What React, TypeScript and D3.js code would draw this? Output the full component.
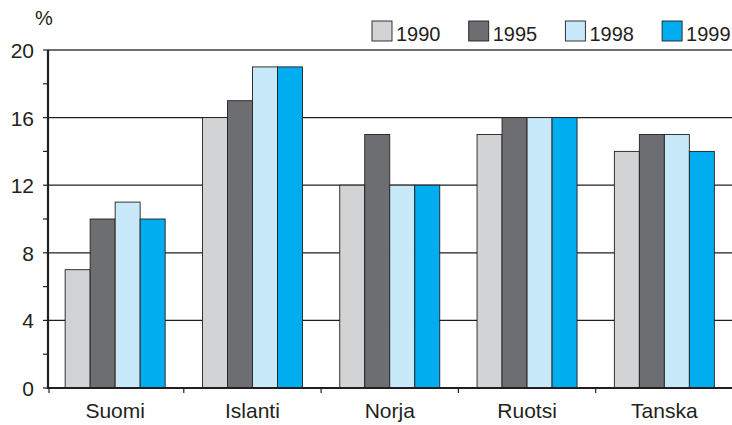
import React, { useRef, useEffect } from 'react';
import * as d3 from 'd3';

const countries = ['Suomi', 'Islanti', 'Norja', 'Ruotsi', 'Tanska'];
const years = ['1990', '1995', '1998', '1999'];
const values1990 = [7, 16, 12, 15, 14];
const values1995 = [10, 17, 15, 16, 15];
const values1998 = [11, 19, 12, 16, 15];
const values1999 = [10, 19, 12, 16, 14];
const yTicks = [0, 4, 8, 12, 16, 20];
const yMinorTicks = [2, 6, 10, 14, 18];
const colors = ['#d1d3d4', '#6d6e71', '#c7e9f9', '#00aeef'];

const series = [values1990, values1995, values1998, values1999];

const App: React.FC = () => {
  const svgRef = useRef<SVGSVGElement>(null);
  const width = 732;
  const height = 425;

  useEffect(() => {
    if (!svgRef.current) return;
    const svg = d3.select(svgRef.current);
    svg.selectAll('*').remove();

    const left = 48;
    const top = 50;
    const bottom = 388;
    const font = 'Liberation Sans, Arial, sans-serif';

    const x = d3.scaleBand<string>().domain(countries).range([46.5, 733]);
    const groupWidth = 100;
    const x1 = d3.scaleBand<string>().domain(years).range([0, groupWidth]);
    const y = d3.scaleLinear().domain([0, 20]).range([bottom, top]);

    // grid lines
    svg
      .append('g')
      .selectAll('line')
      .data(yTicks.filter((t) => t > 0))
      .enter()
      .append('line')
      .attr('x1', left)
      .attr('x2', width)
      .attr('y1', (d) => y(d))
      .attr('y2', (d) => y(d))
      .attr('stroke', (d) => (d === 20 ? '#6d6e71' : '#231f20'))
      .attr('stroke-width', (d) => (d === 20 ? 2 : 1.2));

    // bars
    const groups = svg
      .append('g')
      .selectAll('g')
      .data(countries)
      .enter()
      .append('g')
      .attr(
        'transform',
        (d) => `translate(${x(d)! + (x.bandwidth() - groupWidth) / 2},0)`
      );

    groups
      .selectAll('rect')
      .data((d, i) => series.map((s, j) => ({ year: years[j], v: s[i], j })))
      .enter()
      .append('rect')
      .attr('x', (d) => x1(d.year)!)
      .attr('width', x1.bandwidth())
      .attr('y', (d) => y(d.v))
      .attr('height', (d) => bottom - y(d.v))
      .attr('fill', (d) => colors[d.j])
      .attr('stroke', '#231f20')
      .attr('stroke-width', 0.9);

    // y axis ticks
    svg
      .append('g')
      .selectAll('line')
      .data([...yTicks, ...yMinorTicks])
      .enter()
      .append('line')
      .attr('x1', left - 5)
      .attr('x2', left)
      .attr('y1', (d) => y(d))
      .attr('y2', (d) => y(d))
      .attr('stroke', '#231f20')
      .attr('stroke-width', 1.2);

    svg
      .append('g')
      .selectAll('text')
      .data(yTicks)
      .enter()
      .append('text')
      .attr('x', 34)
      .attr('y', (d) => y(d) + 8)
      .attr('text-anchor', 'end')
      .attr('font-family', font)
      .attr('font-size', 21)
      .attr('fill', '#231f20')
      .text((d) => d);

    svg
      .append('text')
      .attr('x', 35)
      .attr('y', 25)
      .attr('font-family', font)
      .attr('font-size', 20)
      .attr('fill', '#231f20')
      .text('%');

    // axis lines
    svg
      .append('line')
      .attr('x1', left)
      .attr('x2', left)
      .attr('y1', top)
      .attr('y2', bottom + 1)
      .attr('stroke', '#231f20')
      .attr('stroke-width', 2.2);
    svg
      .append('line')
      .attr('x1', left)
      .attr('x2', width)
      .attr('y1', bottom)
      .attr('y2', bottom)
      .attr('stroke', '#231f20')
      .attr('stroke-width', 2.2);

    // x ticks
    svg
      .append('g')
      .selectAll('line')
      .data(countries.slice(1))
      .enter()
      .append('line')
      .attr('x1', (d) => x(d)!)
      .attr('x2', (d) => x(d)!)
      .attr('y1', bottom)
      .attr('y2', bottom + 5)
      .attr('stroke', '#231f20')
      .attr('stroke-width', 1.2);
    svg
      .append('line')
      .attr('x1', left + 1)
      .attr('x2', left + 1)
      .attr('y1', bottom)
      .attr('y2', bottom + 5)
      .attr('stroke', '#231f20')
      .attr('stroke-width', 1.2);

    svg
      .append('g')
      .selectAll('text')
      .data(countries)
      .enter()
      .append('text')
      .attr('x', (d) => x(d)! + x.bandwidth() / 2)
      .attr('y', 418)
      .attr('text-anchor', 'middle')
      .attr('font-family', font)
      .attr('font-size', 21)
      .attr('fill', '#231f20')
      .text((d) => d);

    // legend
    const legend = svg
      .append('g')
      .selectAll('g')
      .data(years)
      .enter()
      .append('g')
      .attr('transform', (d, i) => `translate(${372 + i * 96.7},21)`);
    legend
      .append('rect')
      .attr('width', 20)
      .attr('height', 20)
      .attr('fill', (d, i) => colors[i])
      .attr('stroke', '#231f20')
      .attr('stroke-width', 0.9);
    legend
      .append('text')
      .attr('x', 24)
      .attr('y', 20)
      .attr('font-family', font)
      .attr('font-size', 20)
      .attr('fill', '#231f20')
      .text((d) => d);
  }, []);

  return (
    <svg
      ref={svgRef}
      width={width}
      height={height}
      style={{ position: 'absolute', left: 0, top: 0, background: '#fff' }}
    />
  );
};

export default App;
